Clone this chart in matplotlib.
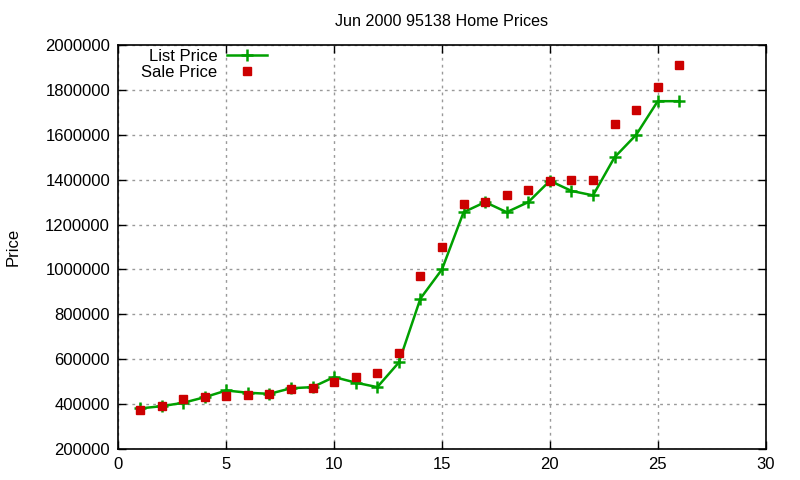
import matplotlib
matplotlib.use("Agg")
import matplotlib.pyplot as plt

plt.rcParams['font.family'] = ['Liberation Sans', 'DejaVu Sans']

months = list(range(1, 27))
list_price = [380000, 390000, 405000, 430000, 460000, 450000, 445000, 470000, 475000, 520000,
              495000, 475000, 585000, 870000, 1000000, 1255000, 1300000, 1255000, 1300000, 1395000,
              1350000, 1330000, 1500000, 1600000, 1750000, 1750000]
sale_price = [375000, 390000, 420000, 430000, 435000, 440000, 445000, 465000, 470000, 500000,
              520000, 540000, 625000, 970000, 1100000, 1290000, 1300000, 1330000, 1355000, 1395000,
              1400000, 1400000, 1650000, 1710000, 1815000, 1910000]
xticks = [0, 5, 10, 15, 20, 25, 30]
yticks = [200000, 400000, 600000, 800000, 1000000, 1200000, 1400000, 1600000, 1800000, 2000000]

fig = plt.figure(figsize=(8, 4.8), dpi=100)
ax = fig.add_axes([0.148, 0.065, 0.809, 0.841])

ax.plot(months, list_price, color="#00a000", lw=1.8, marker="+", ms=8, mew=1.8, label="List Price", zorder=3)
ax.plot(months, sale_price, ls="none", color="#cc0000", marker="s", ms=6, label="Sale Price", zorder=4)

ax.set_xlim(0, 30); ax.set_ylim(200000, 2000000)
ax.set_xticks(xticks); ax.set_yticks(yticks)
ax.set_xticklabels([str(t) for t in xticks]); ax.set_yticklabels([str(t) for t in yticks])
ax.tick_params(direction="in", top=True, right=True, length=6, labelsize=12, width=1, pad=6)
ax.grid(True, ls=(0, (2, 3)), color="#999999", lw=1)
for s in ax.spines.values(): s.set_linewidth(1.2)

ax.set_title("Jun 2000 95138 Home Prices", fontsize=11.6, pad=14)
ax.set_ylabel("Price", fontsize=12)
ax.yaxis.set_label_coords(-0.151, 0.5)

ax.legend(loc="upper left", markerfirst=False, frameon=False, fontsize=12, handlelength=2.4,
          borderaxespad=0.0, labelspacing=0.05, handletextpad=0.6, bbox_to_anchor=(0.025, 1.007))

fig.savefig("out.png", dpi=100)
